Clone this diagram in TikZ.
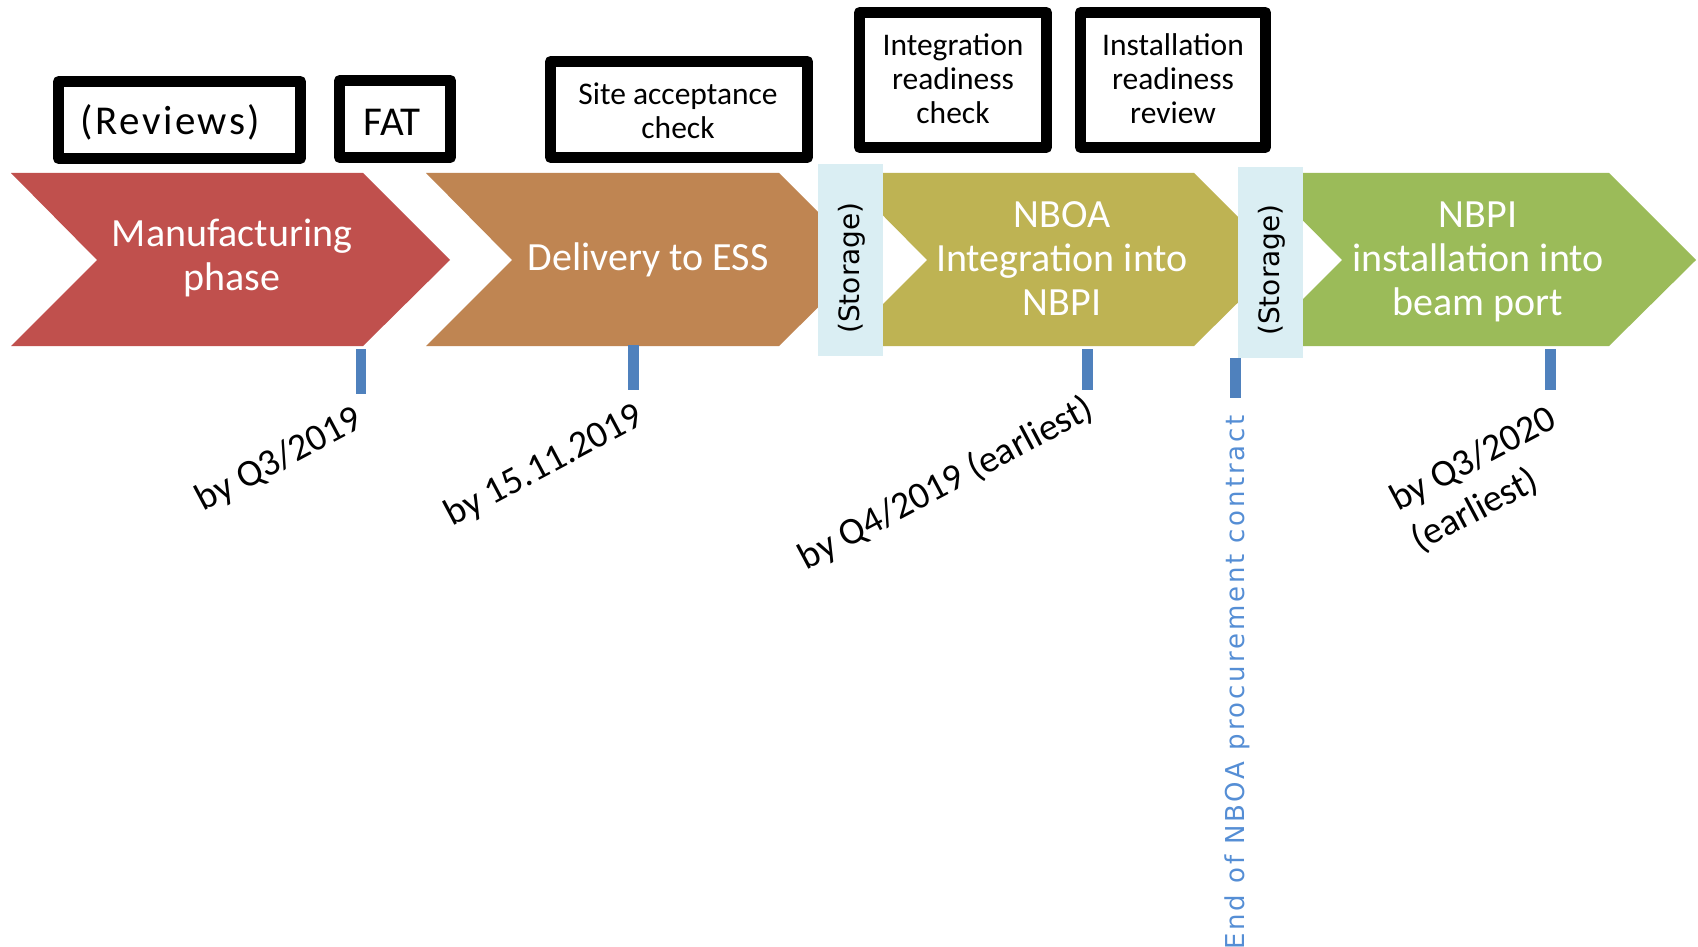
\documentclass[tikz,border=0pt]{standalone}
\usepackage{fontspec}
\setmainfont{Carlito}
\newfontfamily\verd{DejaVu Sans}
\newfontfamily\verdsp{DejaVu Sans}[LetterSpace=11]
\newfontfamily\carlsp{Carlito}[LetterSpace=6]
\definecolor{cred}{HTML}{C0504D}
\definecolor{corange}{HTML}{BF8552}
\definecolor{colive}{HTML}{BEB353}
\definecolor{cgreen}{HTML}{9BBB59}
\definecolor{cstore}{HTML}{DAEEF3}
\definecolor{ctick}{HTML}{4F81BD}
\definecolor{cend}{HTML}{558ED5}
\begin{document}
\begin{tikzpicture}[x=1pt,y=-1pt,
  chevtext/.style={text=white, align=center, inner sep=0pt, font=\fontsize{40}{44}\selectfont},
  boxframe/.style={draw=black, line width=11pt, line join=round, fill=white},
  boxtext/.style={inner sep=0pt, align=center, font=\fontsize{31.5}{34}\selectfont},
  bigbox/.style={inner sep=0pt, font=\fontsize{41}{49}\selectfont},
  storebox/.style={fill=cstore, draw=none},
  storetext/.style={inner sep=0pt, rotate=90, font=\verd\fontsize{28}{34}\selectfont},
  tickbar/.style={fill=ctick, draw=none},
  datelabel/.style={inner sep=0pt, rotate=28, font=\fontsize{38}{46}\selectfont},
  endtext/.style={inner sep=0pt, rotate=90, text=cend, font=\verdsp\fontsize{26}{32}\selectfont}
]
\useasboundingbox[fill=white] (0,0) rectangle (1698,947);

% chevrons
\fill[cred]    (11,173) -- (363,173) -- (450,260) -- (363,346) -- (11,346) -- (97,260) -- cycle;
\fill[corange] (426,173) -- (779,173) -- (866,260) -- (779,346) -- (426,346) -- (512,260) -- cycle;
\fill[colive]  (841,173) -- (1194,173) -- (1281,260) -- (1194,346) -- (841,346) -- (927,260) -- cycle;
\fill[cgreen]  (1256,173) -- (1609,173) -- (1696,260) -- (1609,346) -- (1256,346) -- (1342,260) -- cycle;

% storage boxes
\path[storebox] (818,164) rectangle (883,356);
\path[storebox] (1238,167) rectangle (1303,358);
\node[storetext] (st1) at (852,268) {(Storage)};
\node[storetext] (st2) at (1272,270) {(Storage)};

% chevron texts
\node[chevtext] (manu) at (232,260) {\strut Manufacturing\\phase\strut};
\node[chevtext] (deliv) at (648,261.7) {\strut Delivery to ESS\strut};
\node[chevtext] (integ) at (1062,263) {\strut NBOA\\Integration into\\NBPI\strut};
\node[chevtext] (inst) at (1478,263) {\strut NBPI\\installation into\\beam port\strut};

% top boxes
\path[boxframe] (58.5,81.5) rectangle (300.5,158.5);
\path[boxframe] (339.5,80.5) rectangle (450.5,157.5);
\path[boxframe] (550.5,61.5) rectangle (807.5,157.5);
\path[boxframe] (859.5,12.5) rectangle (1046.5,147.5);
\path[boxframe] (1080.5,12.5) rectangle (1265.5,147.5);
\node[bigbox] (rev) at (170.5,125.2) {\carlsp\strut(Reviews)\strut};
\node[bigbox] (fat) at (392,126.2) {\strut FAT\strut};
\node[boxtext] (sac) at (678,115) {\strut Site acceptance\\check\strut};
\node[boxtext] (irc) at (953,83) {\strut Integration\\readiness\\check\strut};
\node[boxtext] (irr) at (1173,83) {\strut Installation\\readiness\\review\strut};

% ticks
\path[tickbar] (356,349) rectangle (366,394);
\path[tickbar] (628,345) rectangle (639,390);
\path[tickbar] (1082,349) rectangle (1093,390);
\path[tickbar] (1230,358) rectangle (1241,398);
\path[tickbar] (1545,349) rectangle (1556,390);

% date labels
\node[datelabel] (d1) at (280,461) {\strut by Q3/2019\strut};
\node[datelabel] (d2) at (545,467) {\strut by 15.11.2019\strut};
\node[datelabel] (d3) at (947,485) {\strut by Q4/2019 (earliest)\strut};
\node[datelabel, align=left] (d4) at (1485,481) {\strut by Q3/2020\\(earliest)\strut};

% end of contract
\node[endtext, anchor=base east] (endc) at (1244,415) {End of NBOA procurement contract};
\end{tikzpicture}
\end{document}
